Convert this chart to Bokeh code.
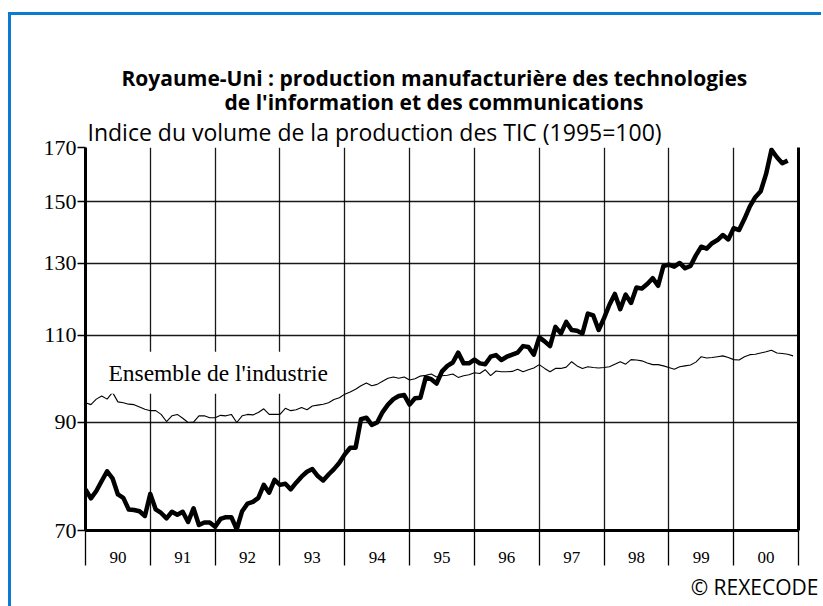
from bokeh.plotting import figure
from bokeh.layouts import column
from bokeh.models import FixedTicker, LogAxis, Label, Range1d, BasicTickFormatter, Title
from bokeh.embed import file_html
from bokeh.resources import INLINE

# --- Data (monthly index, 1995=100) ---
tic_1990 = [77.0, 75.4, 76.7, 78.5, 80.3, 79.0, 76.1, 75.5, 73.5, 73.4, 73.2, 72.4]
tic_1991 = [76.2, 73.5, 72.9, 72.0, 73.1, 72.6, 73.1, 71.4, 73.7, 70.9, 71.3, 71.3]
tic_1992 = [70.6, 71.9, 72.2, 72.2, 70.2, 73.2, 74.5, 74.8, 75.5, 77.8, 76.4, 78.7]
tic_1993 = [77.8, 78.0, 77.0, 78.2, 79.3, 80.2, 80.7, 79.4, 78.6, 79.7, 80.7, 81.9]
tic_1994 = [83.5, 84.8, 84.8, 90.6, 90.9, 89.4, 89.9, 92.1, 93.7, 94.9, 95.6, 95.8]
tic_1995 = [93.7, 95.1, 95.2, 99.8, 99.4, 98.4, 101.2, 102.5, 103.3, 105.7, 103.1, 103.1]
tic_1996 = [104.0, 103.1, 102.9, 104.7, 105.1, 103.9, 104.7, 105.2, 105.7, 107.3, 107.1, 105.2]
tic_1997 = [109.5, 108.5, 107.3, 112.2, 110.5, 113.5, 111.4, 111.2, 110.5, 115.7, 115.2, 111.4]
tic_1998 = [114.5, 118.1, 121.1, 116.9, 120.9, 118.6, 122.9, 122.6, 123.9, 125.6, 123.4, 129.2]
tic_1999 = [129.6, 129.0, 130.1, 128.5, 129.2, 132.4, 135.1, 134.5, 136.2, 137.2, 138.8, 137.4]
tic_2000 = [141.0, 140.4, 144.1, 148.3, 151.5, 153.6, 159.9, 169.1, 166.2, 163.9, 164.9]

ind_1990 = [94.1, 93.7, 94.9, 95.6, 94.9, 96.4, 94.3, 94.1, 93.8, 93.7, 93.2, 92.7]
ind_1991 = [92.4, 92.4, 91.6, 90.1, 91.3, 91.6, 90.8, 89.9, 90.0, 91.3, 91.3, 90.9]
ind_1992 = [90.9, 91.4, 91.3, 91.6, 89.9, 91.3, 91.6, 91.5, 92.0, 92.8, 91.6, 91.6]
ind_1993 = [91.6, 92.9, 92.4, 92.6, 93.1, 92.6, 93.4, 93.6, 93.8, 94.1, 94.8, 95.2]
ind_1994 = [96.0, 96.5, 97.1, 97.9, 98.5, 97.9, 98.2, 98.9, 99.6, 99.9, 99.6, 99.9]
ind_1995 = [99.2, 99.5, 100.1, 100.3, 100.6, 99.9, 100.2, 100.3, 100.6, 99.8, 100.2, 100.4]
ind_1996 = [100.9, 100.7, 101.6, 100.2, 101.3, 101.1, 101.1, 101.2, 101.7, 101.1, 101.6, 102.0]
ind_1997 = [102.8, 101.9, 101.1, 101.9, 101.9, 102.2, 103.5, 102.5, 101.9, 102.3, 102.1, 102.0]
ind_1998 = [102.1, 102.3, 102.9, 103.5, 102.9, 104.0, 103.9, 103.7, 103.2, 102.8, 102.8, 102.5]
ind_1999 = [102.1, 101.7, 102.3, 102.5, 102.7, 103.4, 104.7, 104.4, 104.5, 104.7, 104.9, 104.5]
ind_2000 = [104.0, 103.9, 104.7, 105.2, 105.3, 105.6, 105.9, 106.3, 105.6, 105.5, 105.3, 104.9]

years = [1990, 1991, 1992, 1993, 1994, 1995, 1996, 1997, 1998, 1999, 2000]
year_labels = ["90", "91", "92", "93", "94", "95", "96", "97", "98", "99", "00"]
y_ticks = [70, 90, 110, 130, 150, 170]

tic = (tic_1990 + tic_1991 + tic_1992 + tic_1993 + tic_1994 + tic_1995 +
       tic_1996 + tic_1997 + tic_1998 + tic_1999 + tic_2000)
ind = (ind_1990 + ind_1991 + ind_1992 + ind_1993 + ind_1994 + ind_1995 +
       ind_1996 + ind_1997 + ind_1998 + ind_1999 + ind_2000)
x_tic = [years[0] + i / 12 for i in range(len(tic))]
x_ind = [years[0] + i / 12 for i in range(len(ind))]

blue = "#0b7bd2"
W, H = 810, 591
p = figure(width=W, height=H, output_backend="svg", toolbar_location=None,
           y_axis_type="log", x_range=Range1d(years[0], years[-1] + 1),
           y_range=Range1d(y_ticks[0], y_ticks[-1]),
           min_border_left=74, min_border_right=23, min_border_top=132,
           min_border_bottom=76)
p.outline_line_color = None
p.background_fill_color = "white"
p.border_fill_color = "white"

serif = "Liberation Serif"
sans = "Open Sans"

# y axis
p.yaxis.ticker = FixedTicker(ticks=y_ticks, minor_ticks=[])
p.yaxis.formatter = BasicTickFormatter()
p.yaxis.major_label_text_font = serif
p.yaxis.major_label_text_font_size = "22px"
p.yaxis.major_label_text_color = "black"
p.yaxis.major_tick_out = 8
p.yaxis.major_tick_in = 0
p.yaxis.major_tick_line_width = 1.3
p.yaxis.major_label_standoff = 1
p.yaxis.axis_line_width = 3
p.yaxis.axis_line_color = "black"

# x axis
p.xaxis.ticker = FixedTicker(ticks=[y + 0.5 for y in years],
                             minor_ticks=years + [years[-1] + 1])
p.xaxis.major_label_overrides = {y + 0.5: l for y, l in zip(years, year_labels)}
p.xaxis.major_tick_line_color = None
p.xaxis.major_tick_out = 0
p.xaxis.major_tick_in = 0
p.xaxis.minor_tick_out = 35
p.xaxis.minor_tick_in = 0
p.xaxis.minor_tick_line_color = "black"
p.xaxis.minor_tick_line_width = 1.3
p.xaxis.major_label_standoff = -14
p.xaxis.major_label_text_font = serif
p.xaxis.major_label_text_font_size = "17px"
p.xaxis.major_label_text_color = "black"
p.xaxis.axis_line_width = 3
p.xaxis.axis_line_color = "black"

# right border axis
r_axis = LogAxis(ticker=FixedTicker(ticks=[], minor_ticks=[]),
                 axis_line_width=3, axis_line_color="black",
                 major_label_text_font_size="0px")
p.add_layout(r_axis, "right")

# grids
p.ygrid.ticker = FixedTicker(ticks=y_ticks[1:])
p.xgrid.ticker = FixedTicker(ticks=years[1:])
p.ygrid.grid_line_color = "black"
p.xgrid.grid_line_color = "black"
p.ygrid.grid_line_width = 1.3
p.xgrid.grid_line_width = 1.3
p.ygrid.grid_line_alpha = 0.9
p.xgrid.grid_line_alpha = 0.9

# series
p.line(x_ind, ind, line_color="black", line_width=1.1)
p.line(x_tic, tic, line_color="black", line_width=4.5, line_join="round")

p.add_layout(Label(x=1990.23, y=100.9, text="Ensemble de l'industrie",
                   text_font=serif, text_font_size="23.5px", text_color="black",
                   text_baseline="middle", text_align="left",
                   background_fill_color="white", padding=8))

# titles (stacked above the frame, nearest first)
p.add_layout(Title(text="Indice du volume de la production des TIC (1995=100)",
                   align="left", offset=2, standoff=0,
                   text_font=sans, text_font_style="normal", text_font_size="23px",
                   text_color="black"), "above")
p.add_layout(Title(text="de l'information et des communications",
                   align="left", offset=139, standoff=-5,
                   text_font=sans, text_font_style="bold", text_font_size="21px",
                   text_color="black"), "above")
p.add_layout(Title(text="Royaume-Uni : production manufacturière des technologies",
                   align="left", offset=36, standoff=-7,
                   text_font=sans, text_font_style="bold", text_font_size="21px",
                   text_color="black"), "above")
p.add_layout(Title(text="© REXECODE", align="right", offset=-20, standoff=10,
                   text_font=sans, text_font_style="normal", text_font_size="21px",
                   text_color="black"), "below")

# blue page frame: only a left strip and a top strip are painted on the wrapper
grad = "linear-gradient(" + blue + ", " + blue + ")"
page = column(p, width=W + 3, height=H + 3,
              styles={"background": grad + " left top / 3px 100% no-repeat, " +
                                    grad + " left top / 100% 3px no-repeat, white",
                      "padding-left": "3px", "padding-top": "3px",
                      "margin-left": "8px", "margin-top": "12px"})

open("out.html", "w").write(file_html(page, INLINE))
